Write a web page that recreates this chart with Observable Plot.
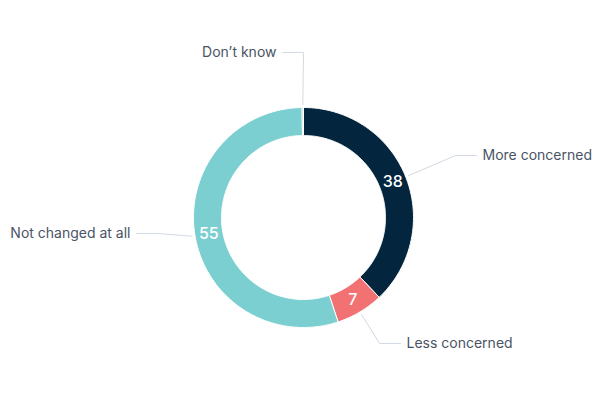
<!DOCTYPE html>
<html>
<head>
<meta charset="utf-8">
<script src="https://cdn.jsdelivr.net/npm/d3@7"></script>
<script src="https://cdn.jsdelivr.net/npm/@observablehq/plot@0.6"></script>
<style>
  html, body { margin: 0; padding: 0; background: #fff; }
  #chart { width: 600px; height: 400px; }
</style>
</head>
<body>
<div id="chart"></div>
<script>
// ---- data ----
const categories = ["More concerned", "Less concerned", "Not changed at all", "Don\u2019t know"];
const values = [38, 7, 55, 0.2];
const valueLabels = ["38", "7", "55", ""];
const colors = ["#03263E", "#F27274", "#7BCFD1", "#9AA3AD"];

// ---- layout (pixels) ----
const W = 600, H = 400;
const cx = 303, cy = 217;
const R = 110, r0 = 82;
// label anchor offsets from centre (pixels, y down) and side
const labelLayout = {
  "More concerned": {dx: 179, dy: -62, side: 1},
  "Less concerned": {dx: 103, dy: 126, side: 1},
  "Not changed at all": {dx: -173, dy: 16, side: -1},
  "Don\u2019t know": {dx: -27, dy: -165, side: -1}
};

const pie = d3.pie().sort(null).startAngle(0).endAngle(2 * Math.PI);
const arcs = pie(values).map((a, i) => ({...a, cat: categories[i], label: valueLabels[i]}));

// polygon outlines of the annular sectors
const poly = [];
for (const a of arcs) {
  const span = a.endAngle - a.startAngle;
  const n = Math.max(2, Math.ceil(span * 80));
  for (let k = 0; k <= n; k++) {
    const t = a.startAngle + span * k / n;
    poly.push({cat: a.cat, x: R * Math.sin(t), y: R * Math.cos(t)});
  }
  for (let k = n; k >= 0; k--) {
    const t = a.startAngle + span * k / n;
    poly.push({cat: a.cat, x: r0 * Math.sin(t), y: r0 * Math.cos(t)});
  }
  const t0 = a.startAngle;
  poly.push({cat: a.cat, x: R * Math.sin(t0), y: R * Math.cos(t0)});
}

const mid = a => (a.startAngle + a.endAngle) / 2;
const valuePts = arcs.filter(a => a.label).map(a => {
  const rm = (R + r0) / 2;
  return {label: a.label, x: rm * Math.sin(mid(a)), y: rm * Math.cos(mid(a))};
});

const connectors = [];
const labelPts = [];
for (const a of arcs) {
  const L = labelLayout[a.cat];
  const rs = R + 3;
  const sx = rs * Math.sin(mid(a)), sy = rs * Math.cos(mid(a));
  const ly = -L.dy;
  const ex = L.dx - 27 * L.side;
  const endx = L.dx - 6 * L.side;
  connectors.push({cat: a.cat, x: sx, y: sy});
  connectors.push({cat: a.cat, x: ex, y: ly});
  connectors.push({cat: a.cat, x: endx, y: ly});
  labelPts.push({cat: a.cat, x: L.dx, y: ly, anchor: L.side > 0 ? "start" : "end"});
}

const font = "Inter, 'Noto Sans', sans-serif";

const plot = Plot.plot({
  width: W,
  height: H,
  margin: 0,
  style: {fontFamily: font, background: "#fff"},
  x: {domain: [-cx, W - cx], range: [0, W], axis: null},
  y: {domain: [cy - H, cy], range: [H, 0], axis: null},
  color: {domain: categories, range: colors},
  marks: [
    Plot.line(connectors, {x: "x", y: "y", z: "cat", stroke: "#D3DAE3", strokeWidth: 1, curve: "linear"}),
    Plot.line(poly, {x: "x", y: "y", z: "cat", fill: "cat", stroke: "#ffffff", strokeWidth: 1, curve: "linear"}),
    Plot.text(valuePts, {x: "x", y: "y", text: "label", fill: "#ffffff", fontSize: 16, fontWeight: 500}),
    Plot.text(labelPts.filter(d => d.anchor === "start"), {x: "x", y: "y", text: "cat", textAnchor: "start", fill: "#4A5464", fontSize: 14}),
    Plot.text(labelPts.filter(d => d.anchor === "end"), {x: "x", y: "y", text: "cat", textAnchor: "end", fill: "#4A5464", fontSize: 14})
  ]
});
document.getElementById("chart").appendChild(plot);
</script>
</body>
</html>
